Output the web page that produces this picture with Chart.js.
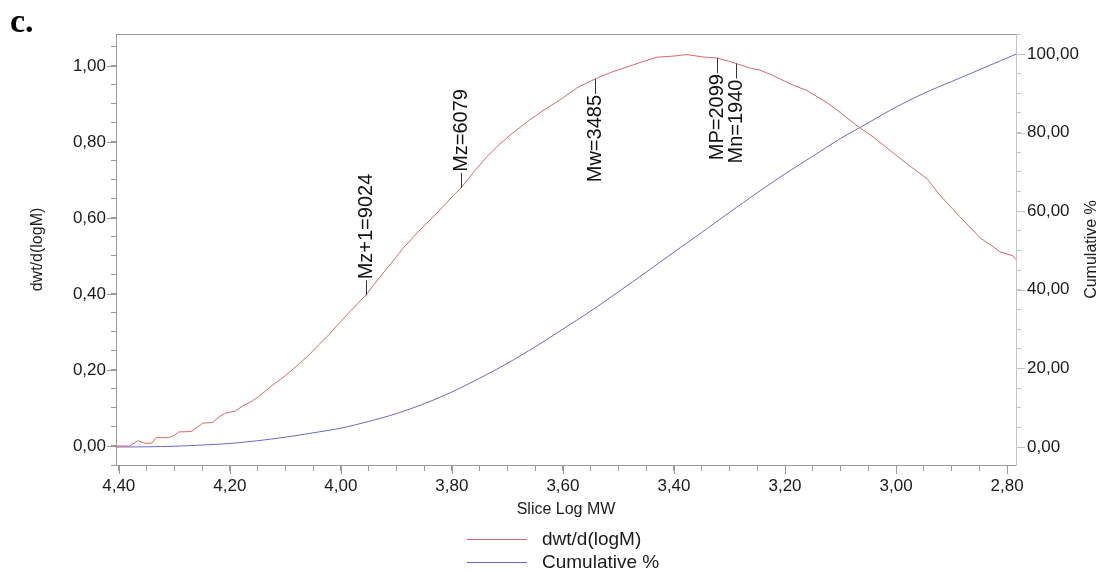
<!DOCTYPE html>
<html>
<head>
<meta charset="utf-8">
<script src="https://cdn.jsdelivr.net/npm/chart.js@4.4.0/dist/chart.umd.min.js"></script>
<style>
  html, body { margin: 0; padding: 0; background: #fff; }
</style>
</head>
<body>
<canvas id="myChart" width="1101" height="572"></canvas>
<script>
// slice log MW and the distribution trace
const distLogM = [
  4.405, 4.380, 4.366, 4.352, 4.340, 4.333, 4.310, 4.300, 4.292, 4.270,
  4.258, 4.249, 4.231, 4.218, 4.207, 4.190, 4.177, 4.160, 4.148, 4.123,
  4.100, 4.081, 4.060, 4.040, 4.020, 4.009, 3.986, 3.970, 3.955, 3.932,
  3.910, 3.888, 3.860, 3.827, 3.800, 3.782, 3.760, 3.737, 3.715, 3.690,
  3.660, 3.629, 3.605, 3.575, 3.539, 3.510, 3.485, 3.461, 3.431, 3.400,
  3.377, 3.350, 3.323, 3.300, 3.285, 3.260, 3.245, 3.222, 3.186, 3.160,
  3.124, 3.101, 3.068, 3.041, 3.005, 2.980, 2.944, 2.921, 2.885, 2.861,
  2.849, 2.825, 2.813, 2.789, 2.784
];
const distValues = [
  0.000, 0.000, 0.014, 0.007, 0.008, 0.022, 0.022, 0.028, 0.037, 0.038,
  0.050, 0.060, 0.062, 0.078, 0.087, 0.092, 0.105, 0.118, 0.130, 0.160,
  0.185, 0.209, 0.236, 0.266, 0.295, 0.314, 0.350, 0.374, 0.397, 0.440,
  0.480, 0.520, 0.565, 0.613, 0.655, 0.682, 0.722, 0.761, 0.793, 0.824,
  0.858, 0.889, 0.911, 0.942, 0.968, 0.985, 0.997, 1.009, 1.023, 1.026,
  1.030, 1.024, 1.021, 1.012, 1.005, 0.993, 0.989, 0.975, 0.950, 0.935,
  0.903, 0.878, 0.840, 0.813, 0.771, 0.742, 0.703, 0.660, 0.603, 0.567,
  0.548, 0.524, 0.511, 0.500, 0.490
];

// cumulative % trace
const cumLogM = [
  4.405, 4.350, 4.300, 4.250, 4.200, 4.150, 4.100, 4.050, 4.000, 3.950,
  3.900, 3.850, 3.800, 3.750, 3.700, 3.650, 3.600, 3.550, 3.500, 3.450,
  3.400, 3.350, 3.300, 3.250, 3.200, 3.150, 3.100, 3.050, 3.000, 2.950,
  2.900, 2.850, 2.825, 2.800, 2.784
];
const cumValues = [
  0.0, 0.05, 0.2, 0.5, 0.9, 1.6, 2.5, 3.6, 4.8, 6.5,
  8.5, 11.0, 14.0, 17.5, 21.3, 25.5, 30.0, 34.6, 39.5, 44.5,
  49.6, 54.6, 59.7, 64.7, 69.5, 74.0, 78.5, 82.5, 86.5, 90.0,
  93.0, 96.0, 97.5, 99.0, 100.0
];

// molecular weight averages marked on the trace
const peakLabels = ["Mz+1=9024", "Mz=6079", "Mw=3485", "MP=2099", "Mn=1940"];
const peakMW = [9024, 6079, 3485, 2099, 1940];

// axis ticks: labelled every major step, small marks every minor step
const xRange = [2.80, 4.40];
const xMajor = 0.2, xMinor = 0.05;
const leftRange = [-0.05, 1.05];
const leftMajor = 0.2, leftMinor = 0.05;
const rightRange = [0, 105];
const rightMajor = 20, rightMinor = 5;

const FONT = '"Liberation Sans", Arial, sans-serif';
const TEXT = '#1a1a1a';
const FRAME = '#9a9a9a';

const fmt = v => v.toFixed(2).replace('.', ',');
const isMajor = (v, step) => Math.abs(v / step - Math.round(v / step)) < 1e-6;

function makeTicks(range, step) {
  const out = [];
  const n = Math.round((range[1] - range[0]) / step);
  for (let i = 0; i <= n; i++) {
    out.push({ value: Math.round((range[0] + i * step) * 1000) / 1000 });
  }
  return out;
}

function distAt(lg) {
  for (let i = 0; i < distLogM.length - 1; i++) {
    const a = distLogM[i], b = distLogM[i + 1];
    if (lg <= a && lg >= b) {
      const t = (a - lg) / (a - b);
      return distValues[i] + t * (distValues[i + 1] - distValues[i]);
    }
  }
  return 0;
}

Chart.defaults.font.family = FONT;
Chart.defaults.color = TEXT;

const extras = {
  id: 'extras',
  afterDatasetsDraw(chart, args, opts) {
    const { ctx, chartArea: a, scales: { x, y, y1 } } = chart;
    ctx.save();
    // top edge of the frame
    ctx.strokeStyle = FRAME;
    ctx.lineWidth = 1;
    ctx.beginPath();
    ctx.moveTo(a.left, Math.round(a.top) + 0.5);
    ctx.lineTo(a.right, Math.round(a.top) + 0.5);
    ctx.stroke();

    // longer marks on the labelled ticks
    ctx.beginPath();
    x.ticks.filter(t => isMajor(t.value, xMajor)).forEach(t => {
      const px = Math.round(x.getPixelForValue(t.value)) + 0.5;
      ctx.moveTo(px, a.bottom);
      ctx.lineTo(px, a.bottom + 9);
    });
    y.ticks.filter(t => isMajor(t.value, leftMajor)).forEach(t => {
      const py = Math.round(y.getPixelForValue(t.value)) + 0.5;
      ctx.moveTo(a.left, py);
      ctx.lineTo(a.left - 9, py);
    });
    ctx.stroke();
    ctx.strokeStyle = '#c4c4c4';
    ctx.beginPath();
    y1.ticks.filter(t => isMajor(t.value, rightMajor)).forEach(t => {
      const py = Math.round(y1.getPixelForValue(t.value)) + 0.5;
      ctx.moveTo(a.right, py);
      ctx.lineTo(a.right + 9, py);
    });
    ctx.stroke();

    // peak markers
    ctx.font = '20px ' + FONT;
    ctx.fillStyle = '#111';
    ctx.strokeStyle = '#333';
    peakLabels.forEach((txt, i) => {
      const lg = Math.log10(peakMW[i]);
      const px = Math.round(x.getPixelForValue(lg)) + 0.5;
      const py = y.getPixelForValue(distAt(lg));
      const up = opts.side[i] === 'above';
      const end = up ? py - 15 : py + 15;
      ctx.beginPath();
      ctx.moveTo(px, py);
      ctx.lineTo(px, end);
      ctx.stroke();
      ctx.save();
      ctx.translate(px, up ? end - 1 : end + 1);
      ctx.rotate(-Math.PI / 2);
      ctx.textAlign = up ? 'left' : 'right';
      ctx.textBaseline = 'middle';
      ctx.fillText(txt, 0, 0);
      ctx.restore();
    });
    ctx.restore();
  },
  afterDraw(chart) {
    const { ctx, chartArea: a } = chart;
    ctx.save();
    // right axis title, reading bottom to top
    ctx.font = '16px ' + FONT;
    ctx.fillStyle = TEXT;
    ctx.translate(chart.width - 9, (a.top + a.bottom) / 2);
    ctx.rotate(-Math.PI / 2);
    ctx.textAlign = 'center';
    ctx.textBaseline = 'middle';
    ctx.fillText('Cumulative %', 0, 0);
    ctx.restore();

    // stacked legend under the axis title
    ctx.save();
    ctx.font = '19px ' + FONT;
    const sets = chart.data.datasets;
    const tw = Math.max(...sets.map(d => ctx.measureText(d.label).width));
    const left = Math.round((a.left + a.right) / 2 - (75 + tw) / 2) - 3;
    sets.forEach((d, i) => {
      const ly = Math.round(a.bottom + 74 + i * 23) + 0.5;
      ctx.strokeStyle = d.borderColor;
      ctx.lineWidth = 1;
      ctx.beginPath();
      ctx.moveTo(left, ly);
      ctx.lineTo(left + 60, ly);
      ctx.stroke();
      ctx.fillStyle = TEXT;
      ctx.textBaseline = 'middle';
      ctx.fillText(d.label, left + 75, ly);
    });
    ctx.restore();
  }
};

new Chart(document.getElementById('myChart'), {
  type: 'line',
  data: {
    datasets: [
      {
        label: 'dwt/d(logM)',
        data: distLogM.map((v, i) => ({ x: v, y: distValues[i] })),
        borderColor: '#d96868',
        backgroundColor: '#d96868',
        borderWidth: 1,
        pointRadius: 0,
        tension: 0,
        yAxisID: 'y'
      },
      {
        label: 'Cumulative %',
        data: cumLogM.map((v, i) => ({ x: v, y: cumValues[i] })),
        borderColor: '#6868c8',
        backgroundColor: '#6868c8',
        borderWidth: 1,
        pointRadius: 0,
        tension: 0.3,
        yAxisID: 'y1'
      }
    ]
  },
  options: {
    responsive: false,
    animation: false,
    layout: { padding: { left: 10, right: 0, top: 0, bottom: 51 } },
    plugins: {
      legend: { display: false },
      tooltip: { enabled: false },
      title: {
        display: true,
        text: 'c.',
        align: 'start',
        color: '#000',
        font: { family: '"Liberation Serif", "Times New Roman", serif', size: 34, weight: 'bold', lineHeight: 0.618 },
        padding: { top: 13, bottom: 0 }
      },
      extras: { side: ['above', 'above', 'below', 'below', 'below'] }
    },
    scales: {
      x: {
        type: 'linear',
        reverse: true,
        min: 2.784,
        max: 4.405,
        afterBuildTicks: s => { s.ticks = makeTicks(xRange, xMinor).reverse(); },
        afterFit: s => { s.height = 56; },
        border: { display: true, color: FRAME },
        grid: { drawOnChartArea: false, tickLength: 6, color: FRAME },
        ticks: {
          autoSkip: false, maxRotation: 0, padding: 5,
          font: { size: 17 },
          callback: v => isMajor(v, xMajor) ? fmt(v) : ''
        },
        title: { display: true, text: 'Slice Log MW', font: { size: 16 }, padding: { top: 0, bottom: 2 } }
      },
      y: {
        position: 'left',
        min: -0.05,
        max: 1.084,
        afterBuildTicks: s => { s.ticks = makeTicks(leftRange, leftMinor); },
        afterFit: s => { s.width = 106; },
        border: { display: true, color: FRAME },
        grid: { drawOnChartArea: false, tickLength: 5, color: FRAME },
        ticks: {
          autoSkip: false, padding: 5,
          font: { size: 17 },
          callback: v => isMajor(v, leftMajor) ? fmt(v) : ''
        },
        title: { display: true, text: 'dwt/d(logM)', font: { size: 16 }, padding: { top: 18, bottom: 0 } }
      },
      y1: {
        position: 'right',
        min: -4.58,
        max: 105.09,
        afterBuildTicks: s => { s.ticks = makeTicks(rightRange, rightMinor); },
        afterFit: s => { s.width = 85; },
        border: { display: true, color: '#c4c4c4' },
        grid: { drawOnChartArea: false, tickLength: 5, color: '#c4c4c4' },
        ticks: {
          autoSkip: false, padding: 6,
          font: { size: 17 },
          callback: v => isMajor(v, rightMajor) ? fmt(v) : ''
        }
      }
    }
  },
  plugins: [extras]
});
</script>
</body>
</html>
